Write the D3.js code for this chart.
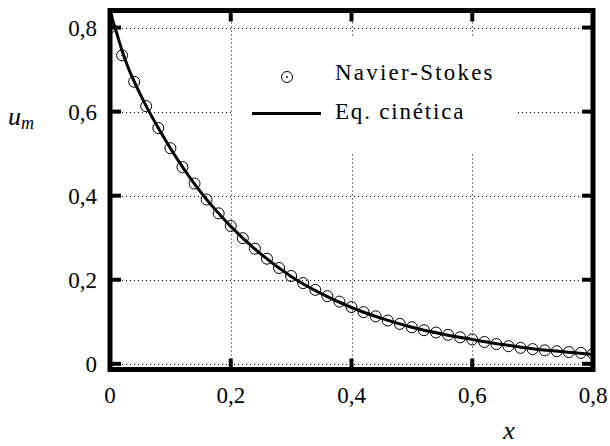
<!DOCTYPE html>
<html>
<head>
<meta charset="utf-8">
<script src="https://cdn.jsdelivr.net/npm/d3@7"></script>
<style>
  body { margin: 0; background: #fff; }
  text { font-family: "Liberation Serif", "DejaVu Serif", serif; fill: #000; }
</style>
</head>
<body>
<div id="chart"></div>
<script>
// Navier-Stokes points
var nsX = [0, 0.02, 0.04, 0.06, 0.08, 0.10, 0.12, 0.14, 0.16, 0.18, 0.20,
           0.22, 0.24, 0.26, 0.28, 0.30, 0.32, 0.34, 0.36, 0.38, 0.40,
           0.42, 0.44, 0.46, 0.48, 0.50, 0.52, 0.54, 0.56, 0.58, 0.60,
           0.62, 0.64, 0.66, 0.68, 0.70, 0.72, 0.74, 0.76, 0.78, 0.80];
var nsY = [0.800, 0.734, 0.671, 0.613, 0.561, 0.513, 0.468, 0.429, 0.391, 0.358, 0.328,
           0.299, 0.274, 0.250, 0.228, 0.209, 0.192, 0.176, 0.161, 0.148, 0.135,
           0.123, 0.113, 0.103, 0.095, 0.087, 0.080, 0.0745, 0.069, 0.063, 0.058,
           0.052, 0.047, 0.042, 0.038, 0.035, 0.032, 0.030, 0.028, 0.026, 0.024];

// kinetic equation curve
var kinX = [0, 0.005, 0.01, 0.02, 0.03, 0.04, 0.06, 0.08, 0.10, 0.15, 0.20, 0.25,
            0.30, 0.35, 0.40, 0.45, 0.50, 0.55, 0.60, 0.65, 0.70, 0.75, 0.80];
var kinY = [0.845, 0.815, 0.792, 0.745, 0.705, 0.672, 0.613, 0.561, 0.513, 0.409, 0.327, 0.261,
            0.208, 0.167, 0.134, 0.108, 0.087, 0.071, 0.058, 0.046, 0.036, 0.029, 0.022];

var xTicks = [0, 0.2, 0.4, 0.6, 0.8];
var yTicks = [0, 0.2, 0.4, 0.6, 0.8];
var fmt = function(d) { return String(d).replace(".", ","); };

var W = 610, H = 446;
var box = {left: 110, right: 593, top: 10.5, bottom: 369.5};

var svg = d3.select("#chart").append("svg")
    .attr("width", W)
    .attr("height", H);

var x = d3.scaleLinear().domain([0, 0.8]).range([box.left, box.right]);
var y = d3.scaleLinear().domain([-0.0135, 0.8406]).range([box.bottom, box.top]);

svg.append("clipPath").attr("id", "clip")
  .append("rect")
    .attr("x", box.left).attr("y", box.top)
    .attr("width", box.right - box.left).attr("height", box.bottom - box.top);

// grid
var grid = svg.append("g")
    .attr("stroke", "#000")
    .attr("stroke-width", 1)
    .attr("stroke-dasharray", "1,3");
grid.selectAll(".gx").data(xTicks.slice(1, -1)).enter().append("line")
    .attr("x1", d => Math.round(x(d)) + 0.5).attr("x2", d => Math.round(x(d)) + 0.5)
    .attr("y1", box.top).attr("y2", box.bottom);
grid.selectAll(".gy").data(yTicks).enter().append("line")
    .attr("x1", box.left).attr("x2", box.right)
    .attr("y1", d => Math.round(y(d)) + 0.5).attr("y2", d => Math.round(y(d)) + 0.5);

// legend background hides grid
svg.append("rect")
    .attr("x", 233).attr("y", 36)
    .attr("width", 284).attr("height", 117)
    .attr("fill", "#fff");

// data
var plot = svg.append("g").attr("clip-path", "url(#clip)");
var pts = nsX.map((d, i) => [d, nsY[i]]);
plot.selectAll("circle.p").data(pts).enter().append("circle")
    .attr("class", "p")
    .attr("cx", d => x(d[0])).attr("cy", d => y(d[1]))
    .attr("r", 5.5)
    .attr("fill", "none").attr("stroke", "#000").attr("stroke-width", 1);
plot.selectAll("circle.c").data(pts).enter().append("circle")
    .attr("class", "c")
    .attr("cx", d => x(d[0])).attr("cy", d => y(d[1]))
    .attr("r", 0.9).attr("fill", "#000");

var line = d3.line()
    .x((d, i) => x(kinX[i]))
    .y((d, i) => y(kinY[i]))
    .curve(d3.curveMonotoneX);
plot.append("path")
    .datum(kinX)
    .attr("fill", "none")
    .attr("stroke", "#000")
    .attr("stroke-width", 3)
    .attr("d", line);

// ticks (inward, mirrored)
var ticks = svg.append("g").attr("stroke", "#000").attr("stroke-width", 4);
xTicks.forEach(function(t) {
  ticks.append("line").attr("x1", x(t)).attr("x2", x(t)).attr("y1", box.bottom).attr("y2", box.bottom - 11);
  ticks.append("line").attr("x1", x(t)).attr("x2", x(t)).attr("y1", box.top).attr("y2", box.top + 11);
});
yTicks.forEach(function(t) {
  ticks.append("line").attr("x1", box.left).attr("x2", box.left + 11).attr("y1", y(t)).attr("y2", y(t));
  ticks.append("line").attr("x1", box.right).attr("x2", box.right - 11).attr("y1", y(t)).attr("y2", y(t));
});

// frame
svg.append("rect")
    .attr("x", box.left).attr("y", box.top)
    .attr("width", box.right - box.left).attr("height", box.bottom - box.top)
    .attr("fill", "none").attr("stroke", "#000").attr("stroke-width", 5);

// tick labels
svg.selectAll(".xl").data(xTicks).enter().append("text")
    .attr("x", d => x(d)).attr("y", 403)
    .attr("text-anchor", "middle")
    .attr("font-size", 23)
    .text(fmt);
svg.selectAll(".yl").data(yTicks).enter().append("text")
    .attr("x", 97).attr("y", d => y(d) + 8)
    .attr("text-anchor", "end")
    .attr("font-size", 23)
    .text(fmt);

// axis titles
var yt = svg.append("text").attr("x", 8).attr("y", 125).attr("font-size", 26).attr("font-style", "italic");
yt.append("tspan").text("u");
yt.append("tspan").attr("font-size", 18).attr("dy", 4).text("m");
svg.append("text")
    .attr("x", 509).attr("y", 439)
    .attr("text-anchor", "middle")
    .attr("font-size", 26).attr("font-style", "italic")
    .text("x");

// legend
svg.append("circle").attr("cx", 287).attr("cy", 77).attr("r", 5.5)
    .attr("fill", "none").attr("stroke", "#000").attr("stroke-width", 1);
svg.append("circle").attr("cx", 287).attr("cy", 77).attr("r", 0.9).attr("fill", "#000");
svg.append("line").attr("x1", 252).attr("x2", 321).attr("y1", 113.5).attr("y2", 113.5)
    .attr("stroke", "#000").attr("stroke-width", 3);
svg.append("text").attr("x", 335).attr("y", 80).attr("font-size", 23)
    .attr("letter-spacing", 2.2).text("Navier-Stokes");
svg.append("text").attr("x", 335).attr("y", 119).attr("font-size", 23)
    .attr("letter-spacing", 1.8).text("Eq. cinética");
</script>
</body>
</html>
